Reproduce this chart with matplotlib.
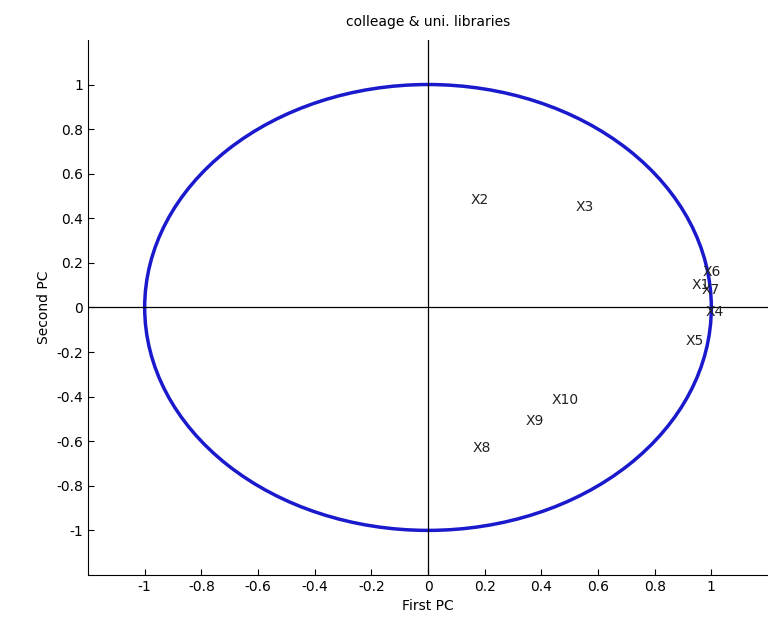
import matplotlib
matplotlib.use("Agg")
import matplotlib.pyplot as plt
from matplotlib.patches import Circle

# loadings of the variables on the first two PCs
labels = ["X1", "X2", "X3", "X4", "X5", "X6", "X7", "X8", "X9", "X10"]
pc1 = [0.93, 0.15, 0.52, 0.98, 0.91, 0.97, 0.965, 0.156, 0.346, 0.435]
pc2 = [0.10, 0.48, 0.45, -0.02, -0.15, 0.157, 0.077, -0.63, -0.51, -0.417]

ticks = [-1, -0.8, -0.6, -0.4, -0.2, 0, 0.2, 0.4, 0.6, 0.8, 1]
tick_labels = ["-1", "-0.8", "-0.6", "-0.4", "-0.2", "0", "0.2", "0.4", "0.6", "0.8", "1"]

fig = plt.figure(figsize=(7.68, 6.4), dpi=100)
ax = fig.add_axes([0.1146, 0.1016, 0.8854, 0.836])

ax.add_patch(Circle((0, 0), 1, fill=False, edgecolor=(0.1, 0.1, 0.8), linewidth=2.5))
ax.axhline(0, color="black", linewidth=0.9)
ax.axvline(0, color="black", linewidth=0.9)

for lab, x, y in zip(labels, pc1, pc2):
    ax.text(x, y, lab, ha="left", va="center", fontsize=10, color="#222222")

ax.set_xlim(-1.2, 1.2)
ax.set_ylim(-1.2, 1.2)
ax.set_xticks(ticks)
ax.set_xticklabels(tick_labels)
ax.set_yticks(ticks)
ax.set_yticklabels(tick_labels)
ax.tick_params(direction="in", labelsize=10, length=4)
ax.spines["top"].set_visible(False)
ax.spines["right"].set_visible(False)

ax.set_title("colleage & uni. libraries", fontsize=10, pad=10)
ax.set_xlabel("First PC", fontsize=10)
ax.set_ylabel("Second PC", fontsize=10)

fig.savefig("out.png", dpi=100)
